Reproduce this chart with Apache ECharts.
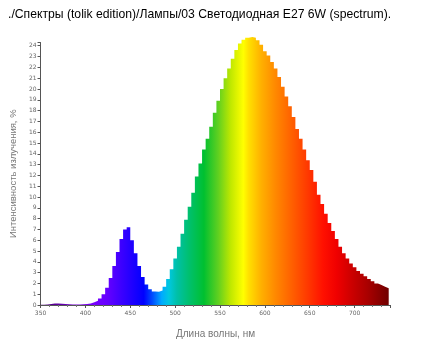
<!DOCTYPE html>
<html>
<head>
<meta charset="utf-8">
<script src="https://cdn.jsdelivr.net/npm/echarts@6/dist/echarts.min.js"></script>
<style>
html,body{margin:0;padding:0;background:#fff;}
#chart{width:424px;height:344px;}
</style>
</head>
<body>
<div id="chart"></div>
<script>
// Wavelength bin starts (nm), 4 nm bins; last entry closes the final bin
var wavelengths = [350,354,358,362,366,370,374,378,382,386,390,394,398,402,406,410,414,418,422,426,430,434,438,442,446,450,454,458,462,466,470,474,478,482,486,490,494,498,502,506,510,514,518,522,526,530,534,538,542,546,550,554,558,562,566,570,574,578,582,586,590,594,598,602,606,610,614,618,622,626,630,634,638,642,646,650,654,658,662,666,670,674,678,682,686,690,694,698,702,706,710,714,718,722,726,730,734,738];
// Radiation intensity, %
var intensity = [0.02,0.05,0.1,0.13,0.14,0.12,0.09,0.06,0.05,0.05,0.05,0.06,0.1,0.15,0.25,0.4,0.6,1.0,1.6,2.5,3.6,4.9,6.1,7.0,7.2,6.0,4.8,3.6,2.6,1.9,1.45,1.25,1.22,1.35,1.7,2.4,3.3,4.3,5.4,6.6,7.9,9.1,10.4,11.9,13.1,14.4,15.4,16.5,17.8,18.9,20.0,21.0,21.9,22.8,23.6,24.2,24.55,24.75,24.8,24.75,24.5,24.1,23.5,23.1,22.5,21.9,21.1,20.2,19.3,18.4,17.4,16.3,15.4,14.4,13.4,12.5,11.4,10.2,9.35,8.45,7.6,6.85,6.1,5.4,4.8,4.3,3.85,3.5,3.15,2.9,2.65,2.4,2.2,2.0,1.85,1.7,1.55,1.55];
var xTicks = [350,400,450,500,550,600,650,700];
var yTicks = [0,1,2,3,4,5,6,7,8,9,10,11,12,13,14,15,16,17,18,19,20,21,22,23,24];

// Spectral colour stops (nm -> colour)
var colorNm = [350,395,410,425,440,455,465,475,485,493,502,515,532,548,562,576,582,596,612,630,648,665,680,695,715,738];
var colorHex = ['#4a0070','#7a00e0','#7800ff','#6400ff','#3c00ff','#1800ff','#0000ff','#0050ff','#00aaff','#00c8e0','#00c0a8','#00c070','#00c030','#60d020','#c0e800','#ffff00','#ffe000','#ffb000','#ff8800','#ff6000','#ff3800','#ff1000','#f00000','#d00000','#a80000','#700000'];

var x0 = wavelengths[0], x1 = wavelengths[wavelengths.length-1];
var stops = colorNm.map(function(n,i){return {offset:(n-x0)/(x1-x0), color:colorHex[i]};});

var data = wavelengths.map(function(w,i){return [w, intensity[i]];});

var chart = echarts.init(document.getElementById('chart'));
chart.setOption({
  animation:false,
  backgroundColor:'#fff',
  title:{
    text:'./Спектры (tolik edition)/Лампы/03 Светодиодная E27 6W (spectrum).',
    left:3, top:4,
    textStyle:{fontFamily:'Liberation Sans',fontSize:12.2,fontWeight:'normal',color:'#000'}
  },
  grid:{left:37.5,right:33.5,top:42.5,bottom:34.5},
  xAxis:{
    type:'value', min:350, max:740, interval:50,
    name:'Длина волны, нм', nameLocation:'middle', nameGap:24,
    nameTextStyle:{fontFamily:'Liberation Sans',fontSize:10,color:'#777'},
    axisLine:{show:true,onZero:false,lineStyle:{color:'#555',width:1}},
    axisTick:{show:true,length:3,lineStyle:{color:'#555'}},
    minorTick:{show:true,splitNumber:5,length:2,lineStyle:{color:'#777'}},
    axisLabel:{fontFamily:'DejaVu Sans',fontSize:6,color:'#666',margin:5,
      formatter:function(v){return xTicks.indexOf(v)>=0?String(v):'';}},
    splitLine:{show:false}
  },
  yAxis:{
    type:'value', min:0, max:24.3, interval:1,
    name:'Интенсивность излучения, %', nameLocation:'middle', nameGap:22,
    nameTextStyle:{fontFamily:'Liberation Sans',fontSize:9.5,color:'#777'},
    axisLine:{show:true,lineStyle:{color:'#555',width:1}},
    axisTick:{show:true,length:3,lineStyle:{color:'#555'}},
    axisLabel:{fontFamily:'DejaVu Sans',fontSize:6,color:'#666',margin:4,
      formatter:function(v){return yTicks.indexOf(v)>=0?String(v):'';}},
    splitLine:{show:false}
  },
  series:[{
    type:'line', step:'end', data:data, symbol:'none', clip:false,
    lineStyle:{width:0},
    areaStyle:{opacity:1,color:{type:'linear',x:0,y:0,x2:1,y2:0,colorStops:stops}}
  }]
});
</script>
</body>
</html>
